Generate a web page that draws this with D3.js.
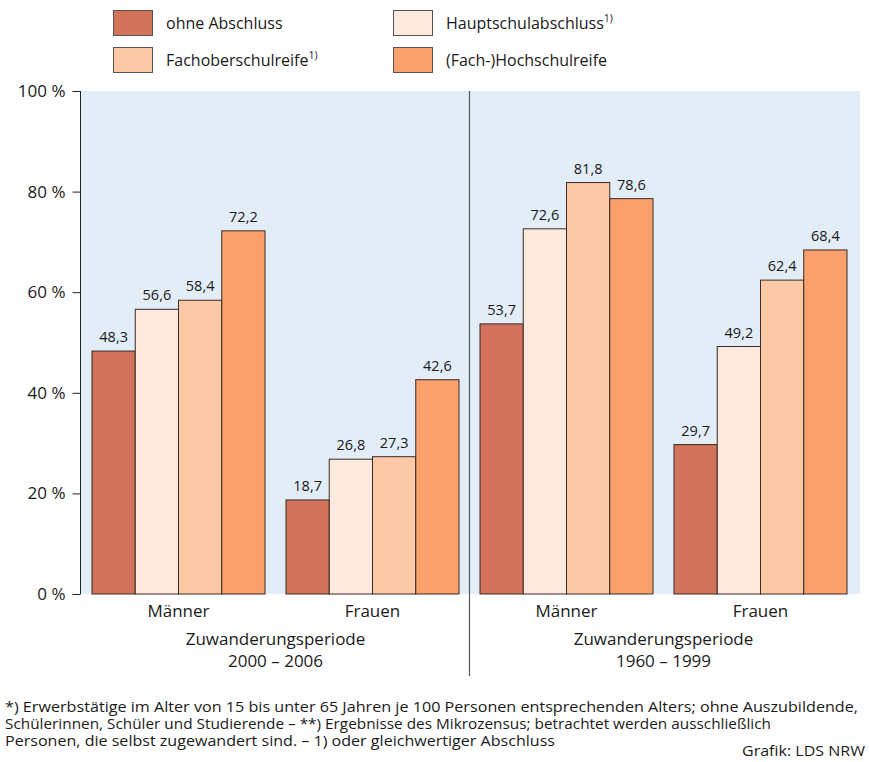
<!DOCTYPE html>
<meta charset="utf-8">
<script src="https://d3js.org/d3.v7.min.js"></script>
<style>
  body { margin: 0; background: #fff; }
  text { font-family: "Open Sans", "Noto Sans", sans-serif; fill: #1a1a1a; }
</style>
<svg id="chart" width="869" height="762"></svg>
<script>
  // data
  var groups = ["M2000", "F2000", "M1960", "F1960"];
  var groupLabels = ["Männer", "Frauen", "Männer", "Frauen"];
  var series = ["ohne Abschluss", "Hauptschulabschluss", "Fachoberschulreife", "(Fach-)Hochschulreife"];
  var seriesSup = ["", "1)", "1)", ""];
  var colors = ["#d4735b", "#fde9dd", "#fcc9a7", "#f9a06d"];
  var values = [
    [48.3, 56.6, 58.4, 72.2],
    [18.7, 26.8, 27.3, 42.6],
    [53.7, 72.6, 81.8, 78.6],
    [29.7, 49.2, 62.4, 68.4]
  ];
  var periods = ["2000 – 2006", "1960 – 1999"];
  var yTicks = [0, 20, 40, 60, 80, 100];

  var svg = d3.select("#chart");

  var y = d3.scaleLinear().domain([0, 100]).range([594, 91]);
  var x = d3.scaleBand().domain(groups).range([81.5, 857.5])
    .paddingInner(21 / 194).paddingOuter(21 / 388);
  var xs = d3.scaleBand().domain(series).range([0, x.bandwidth()]);

  // background
  svg.append("rect")
    .attr("x", 81).attr("y", y(100))
    .attr("width", 860 - 81).attr("height", y(0) - y(100))
    .attr("fill", "#e2edf7");

  // y axis
  var yAxis = d3.axisLeft(y).tickValues(yTicks).tickSize(8).tickPadding(7)
    .tickFormat(function (d) { return d + " %"; });
  var ga = svg.append("g").attr("transform", "translate(80.5,0)").call(yAxis);
  ga.select(".domain").attr("d", "M0," + y(100) + "V" + y(0)).attr("stroke", "#222");
  ga.selectAll(".tick line").attr("stroke", "#222");
  ga.selectAll(".tick text").style("font-size", "17px").attr("fill", "#1a1a1a")
    .style("font-family", "'Open Sans', sans-serif");

  // bars
  var gg = svg.append("g").selectAll("g")
    .data(groups).enter().append("g")
    .attr("transform", function (d) { return "translate(" + x(d) + ",0)"; });

  gg.selectAll("rect")
    .data(function (d, i) { return values[i].map(function (v, j) { return { s: series[j], v: v, c: colors[j] }; }); })
    .enter().append("rect")
    .attr("x", function (d) { return xs(d.s); })
    .attr("y", function (d) { return y(d.v); })
    .attr("width", xs.bandwidth())
    .attr("height", function (d) { return y(0) - y(d.v); })
    .attr("fill", function (d) { return d.c; })
    .attr("stroke", "#3a2a25")
    .attr("stroke-width", 1);

  gg.selectAll("text.val")
    .data(function (d, i) { return values[i].map(function (v, j) { return { s: series[j], v: v }; }); })
    .enter().append("text")
    .attr("class", "val")
    .attr("x", function (d) { return xs(d.s) + xs.bandwidth() / 2; })
    .attr("y", function (d) { return y(d.v) - 9; })
    .attr("text-anchor", "middle")
    .style("font-size", "14.5px")
    .text(function (d) { return d3.format(".1f")(d.v).replace(".", ","); });

  // group labels
  svg.append("g").selectAll("text")
    .data(groups).enter().append("text")
    .attr("x", function (d) { return x(d) + x.bandwidth() / 2; })
    .attr("y", 617)
    .attr("text-anchor", "middle")
    .style("font-size", "17px")
    .text(function (d, i) { return groupLabels[i]; });

  // period labels
  periods.forEach(function (p, i) {
    var cx = (x(groups[i * 2]) + x(groups[i * 2 + 1]) + x.bandwidth()) / 2;
    svg.append("text").attr("x", cx).attr("y", 645).attr("text-anchor", "middle")
      .style("font-size", "17px").text("Zuwanderungsperiode");
    svg.append("text").attr("x", cx).attr("y", 667).attr("text-anchor", "middle")
      .style("font-size", "17px").text(p);
  });

  // divider
  var divX = (x(groups[1]) + x.bandwidth() + x(groups[2])) / 2;
  svg.append("line")
    .attr("x1", divX).attr("x2", divX)
    .attr("y1", y(100)).attr("y2", 676)
    .attr("stroke", "#555").attr("stroke-width", 1.2);

  // legend
  var legPos = [[113, 10], [393, 10], [113, 47], [393, 47]];
  var order = [0, 1, 2, 3];
  var lg = svg.append("g").selectAll("g")
    .data(order).enter().append("g")
    .attr("transform", function (d) { return "translate(" + legPos[d][0] + "," + legPos[d][1] + ")"; });
  lg.append("rect")
    .attr("x", 0.5).attr("y", 0.5)
    .attr("width", 39).attr("height", 25)
    .attr("fill", function (d) { return colors[d]; })
    .attr("stroke", "#555").attr("stroke-width", 1);
  var lt = lg.append("text")
    .attr("x", 53).attr("y", 19)
    .style("font-size", "16px")
    .text(function (d) { return series[d]; });
  lt.filter(function (d) { return seriesSup[d]; })
    .append("tspan")
    .attr("dy", -7)
    .style("font-size", "10.5px")
    .text(function (d) { return seriesSup[d]; });

  // footnotes
  var notes = [
    "*) Erwerbstätige im Alter von 15 bis unter 65 Jahren je 100 Personen entsprechenden Alters; ohne Auszubildende,",
    "Schülerinnen, Schüler und Studierende – **) Ergebnisse des Mikrozensus; betrachtet werden ausschließlich",
    "Personen, die selbst zugewandert sind. – 1) oder gleichwertiger Abschluss"
  ];
  var noteWidths = [853, 766, 550];
  svg.append("g").selectAll("text")
    .data(notes).enter().append("text")
    .attr("x", 5)
    .attr("y", function (d, i) { return 712 + i * 17; })
    .attr("textLength", function (d, i) { return noteWidths[i]; })
    .attr("lengthAdjust", "spacingAndGlyphs")
    .style("font-size", "14px")
    .text(function (d) { return d; });
  svg.append("text")
    .attr("x", 742).attr("y", 756)
    .attr("textLength", 123)
    .attr("lengthAdjust", "spacingAndGlyphs")
    .style("font-size", "15px")
    .text("Grafik: LDS NRW");
</script>
